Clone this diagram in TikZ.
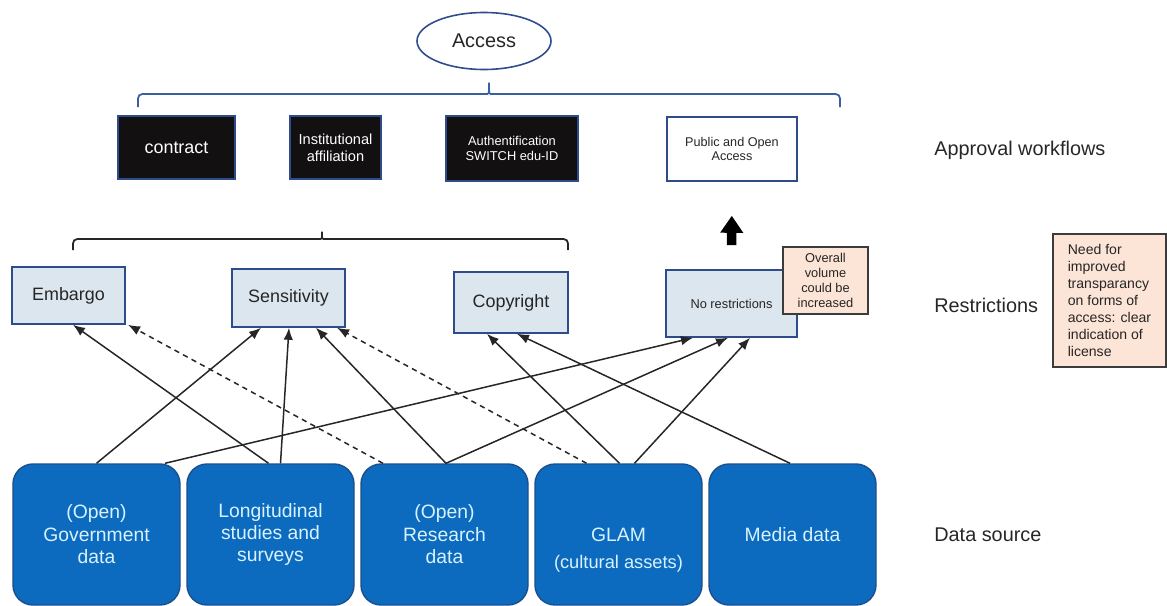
\documentclass[tikz,border=0pt]{standalone}
\usepackage{fontspec}
\setsansfont{Liberation Sans}
\usepackage{tikz}
\usetikzlibrary{shapes.geometric, arrows.meta, positioning}
\definecolor{navy}{HTML}{2E4B8C}
\definecolor{bracebl}{HTML}{3A5F9E}
\definecolor{srcblue}{HTML}{0C6BBF}
\definecolor{srcedge}{HTML}{1C4F8C}
\definecolor{srctext}{HTML}{D8F2FF}
\definecolor{restrbg}{HTML}{DCE6EF}
\definecolor{peach}{HTML}{FCE4D6}
\definecolor{peachedge}{HTML}{3C3C3C}
\definecolor{inkgray}{HTML}{262626}
\definecolor{nearblack}{HTML}{121010}
\tikzset{
  accnode/.style={ellipse, draw=navy, line width=0.9pt, fill=white, text=inkgray,
    font=\sffamily\fontsize{11.3}{13.5}\selectfont, minimum width=2.68cm, minimum height=1.14cm, inner sep=0pt},
  wfbox/.style={rectangle, draw=navy, line width=0.6pt, fill=nearblack, text=white,
    font=\sffamily\fontsize{8.3}{9.6}\selectfont, align=center, inner sep=2pt},
  wfopen/.style={rectangle, draw=navy, line width=0.9pt, fill=white, text=inkgray,
    font=\sffamily\fontsize{7.2}{8.3}\selectfont, align=center, inner sep=2pt},
  rbox/.style={rectangle, draw=navy, line width=0.9pt, fill=restrbg, text=inkgray,
    font=\sffamily\fontsize{10.2}{12}\selectfont, align=center, inner sep=2pt},
  notebox/.style={rectangle, draw=peachedge, line width=0.8pt, fill=peach, text=inkgray, inner sep=2pt},
  srcbox/.style={rectangle, rounded corners=0.4cm, draw=srcedge, line width=0.8pt, fill=srcblue, text=srctext,
    font=\sffamily\fontsize{11}{12.8}\selectfont, minimum width=3.34cm, minimum height=2.82cm,
    align=center, inner sep=2pt},
  srcsub/.style={text=srctext, font=\sffamily\fontsize{10.4}{12}\selectfont, inner sep=0pt},
  lvllbl/.style={anchor=west, text=inkgray, font=\sffamily\fontsize{11.3}{13.5}\selectfont, inner sep=0pt},
  ar/.style={-{Latex[length=2.4mm,width=1.9mm]}, draw=black!85, line width=0.85pt},
  ardash/.style={ar, dash pattern=on 3pt off 2.5pt},
  bigar/.style={-{Triangle[width=0.44cm,length=0.34cm]}, draw=black, line width=0.19cm},
}
% #1 style, #2 left x, #3 tip x, #4 right x, #5 bar y, #6 end drop, #7 tip height
\newcommand{\HBrace}[7]{%
  \draw[#1, rounded corners=2.5pt] (#2,#5-#6) -- (#2,#5) -- (#3-0.12,#5)
    .. controls (#3,#5) .. (#3,#5+#7) .. controls (#3,#5) .. (#3+0.12,#5)
    -- (#4,#5) -- (#4,#5-#6);%
}

\begin{document}
\begin{tikzpicture}[every node/.style={font=\sffamily}]
\useasboundingbox (0,0) rectangle (23.34,-12.12);

\node[accnode] (acc) at (9.68,-0.82) {Access};
\HBrace{draw=bracebl, line width=1pt}{2.76}{9.78}{16.80}{-1.88}{0.26}{0.28}

% approval workflows
\node[wfbox, minimum width=2.34cm, minimum height=1.26cm, font=\sffamily\fontsize{10.2}{12}\selectfont] (contract) at (3.53,-2.95) {contract};
\node[wfbox, minimum width=1.82cm, minimum height=1.26cm] (inst) at (6.71,-2.95) {Institutional\\affiliation};
\node[wfbox, minimum width=2.64cm, minimum height=1.30cm, font=\sffamily\fontsize{7.3}{8.6}\selectfont] (auth) at (10.24,-2.97) {Authentification\\SWITCH edu-ID};
\node[wfopen, minimum width=2.60cm, minimum height=1.28cm] (pubacc) at (14.64,-2.98) {Public and Open\\Access};

\HBrace{draw=black!85, line width=1pt}{1.46}{6.44}{11.36}{-4.78}{0.22}{0.20}

% restrictions
\node[rbox, minimum width=2.26cm, minimum height=1.14cm] (emb) at (1.37,-5.91) {Embargo};
\node[rbox, minimum width=2.26cm, minimum height=1.16cm] (sens) at (5.77,-5.96) {Sensitivity};
\node[rbox, minimum width=2.28cm, minimum height=1.22cm] (copy) at (10.22,-6.05) {Copyright};
\node[rbox, minimum width=2.62cm, minimum height=1.34cm, font=\sffamily\fontsize{7.3}{8.5}\selectfont] (norestr) at (14.63,-6.07) {No restrictions};
\node[notebox, minimum width=1.70cm, minimum height=1.34cm, align=center, font=\sffamily\fontsize{7.3}{8.5}\selectfont] (vol) at (16.51,-5.61) {Overall\\volume\\could be\\increased};
\node[notebox, minimum width=2.26cm, minimum height=2.66cm, align=left, font=\sffamily\fontsize{8}{9.75}\selectfont] (transp) at (22.19,-6.01) {Need for\\improved\\transparancy\\on forms of\\access: clear\\indication of\\license};

\draw[bigar, shorten <=0.48cm, shorten >=0.68cm] (norestr.north) -- (pubacc.south);

% data sources
\node[srcbox] (gov) at (1.93,-10.69) {(Open)\\Government\\data};
\node[srcbox] (longit) at (5.41,-10.69) {Longitudinal\\studies and\\surveys};
\node[srcbox] (resdata) at (8.89,-10.69) {(Open)\\Research\\data};
\node[srcbox] (glam) at (12.37,-10.69) {GLAM};
\node[srcsub] (glamsub) at ([yshift=-0.58cm]glam.center) {(cultural assets)};
\node[srcbox] (media) at (15.85,-10.69) {Media data};

\node[lvllbl] (lblwf) at (18.68,-3.00) {Approval workflows};
\node[lvllbl] (lblres) at (18.68,-6.10) {Restrictions};
\node[lvllbl] (lblsrc) at (18.68,-10.70) {Data source};

\draw[ar] (gov.north) -- ([xshift=-0.55cm]sens.south);
\draw[ar] ([xshift=1.37cm]gov.north) -- ([xshift=-0.77cm]norestr.south);
\draw[ar] ([xshift=-0.04cm]longit.north) -- ([xshift=0.09cm]emb.south);
\draw[ar] ([xshift=0.20cm]longit.north) -- ([xshift=0.01cm]sens.south);
\draw[ardash] ([xshift=-1.23cm]resdata.north) -- ([xshift=1.19cm]emb.south);
\draw[ar] ([xshift=0.03cm]resdata.north) -- ([xshift=0.55cm]sens.south);
\draw[ar] ([xshift=0.03cm]resdata.north) -- ([xshift=-0.07cm]norestr.south);
\draw[ardash] ([xshift=-0.64cm]glam.north) -- ([xshift=0.97cm]sens.south);
\draw[ar] ([xshift=0.02cm]glam.north) -- ([xshift=-0.48cm]copy.south);
\draw[ar] ([xshift=0.32cm]glam.north) -- ([xshift=0.37cm]norestr.south);
\draw[ar] ([xshift=-0.05cm]media.north) -- ([xshift=0.12cm]copy.south);
\end{tikzpicture}
\end{document}
